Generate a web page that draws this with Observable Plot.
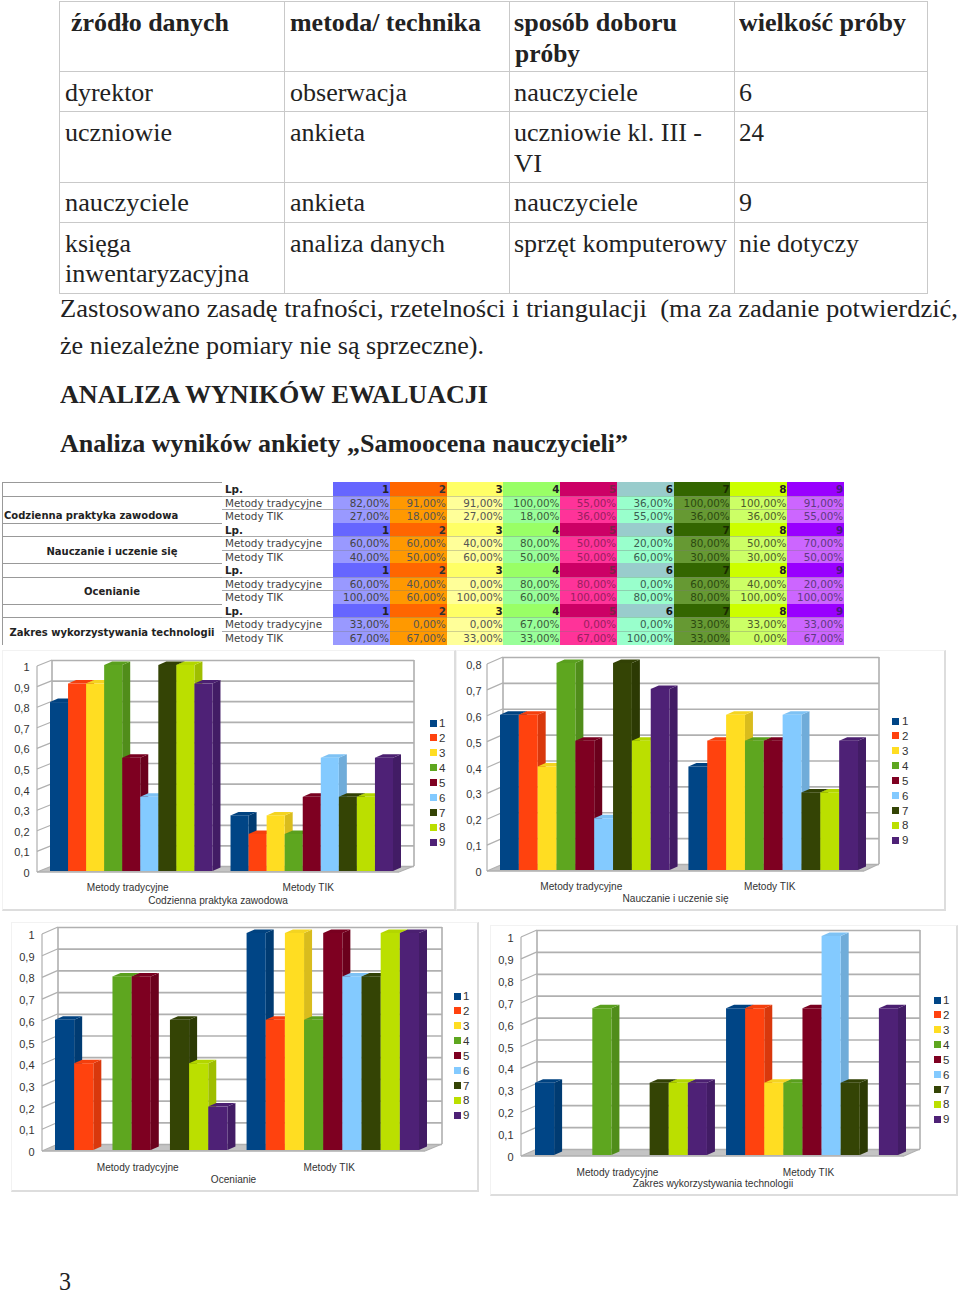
<!DOCTYPE html>
<html lang="pl"><head><meta charset="utf-8">
<script src="https://cdn.jsdelivr.net/npm/d3@7"></script>
<script src="https://cdn.jsdelivr.net/npm/@observablehq/plot@0.6"></script>
<style>
html,body{margin:0;padding:0;background:#fff;}
#page{position:relative;width:960px;height:1297px;overflow:hidden;}
#page div{position:absolute;box-sizing:border-box;}
.ln{white-space:pre;font-family:"Liberation Serif",serif;color:#222;transform-origin:0 50%;}
.c{font-family:"DejaVu Sans",sans-serif;font-size:10.4px;line-height:15px;text-align:right;padding-right:1px;white-space:pre;}
.leg{font:11.5px "Liberation Sans",sans-serif;color:#333;white-space:pre;}
svg{overflow:visible;}
</style></head><body><div id="page"></div>
<script>
// ---- data ----
const seriesNames = ["1","2","3","4","5","6","7","8","9"];
const rowNames = ["Metody tradycyjne","Metody TIK"];
const colors = ["#004586","#ff420e","#ffdd22","#5ea61f","#7e0021","#83caff","#344405","#bbdf00","#4e2176"];
const headFill = ["#6666ff","#ff6600","#ffff66","#99ff66","#cc0066","#99cccc","#336600","#ccff00","#9900ff"];
const dataFill = ["#9999ff","#ff9900","#ffff99","#99ff99","#ff3399","#99ffcc","#669933","#ccff66","#cc66ff"];
const headInk = ["#222","#333","#222","#222","#80204a","#111","#1a2a00","#222","#4a1a80"];
const dataInk = ["#444","#555","#555","#3c5c3c","#992060","#3c5c50","#2c4a10","#4c5c2c","#603a80"];

const praktykaTrad = [82,91,91,100,55,36,100,100,91];
const praktykaTik  = [27,18,27,18,36,55,36,36,55];
const nauczanieTrad = [60,60,40,80,50,20,80,50,70];
const nauczanieTik  = [40,50,60,50,50,60,30,30,50];
const ocenianieTrad = [60,40,0,80,80,0,60,40,20];
const ocenianieTik  = [100,60,100,60,100,80,80,100,100];
const zakresTrad = [33,0,0,67,0,0,33,33,33];
const zakresTik  = [67,67,33,33,67,100,33,0,67];
const ticks10 = [0,.1,.2,.3,.4,.5,.6,.7,.8,.9,1];
const ticks8  = [0,.1,.2,.3,.4,.5,.6,.7,.8];

const topTableX = [59,284,509,734,927];
const topTableY = [1,71,111,182,222,293];
const textLines = [
 [71,31,"źródło danych",158,1],[290,31,"metoda/ technika",191,1],[514,31,"sposób doboru",163,1],[739,31,"wielkość próby",167,1],
 [515,62,"próby",65,1],
 [65,101,"dyrektor",88,0],[290,101,"obserwacja",117,0],[514,101,"nauczyciele",124,0],[739,101,"6",13,0],
 [65,141,"uczniowie",107,0],[290,141,"ankieta",75,0],[514,141,"uczniowie kl. III -",188,0],[739,141,"24",25,0],
 [514,172,"VI",28,0],
 [65,211.5,"nauczyciele",124,0],[290,211.5,"ankieta",75,0],[514,211.5,"nauczyciele",124,0],[739,211.5,"9",13,0],
 [65,252,"księga",66,0],[290,252,"analiza danych",155,0],[514,252,"sprzęt komputerowy",213,0],[739,252,"nie dotyczy",120,0],
 [65,282,"inwentaryzacyjna",184,0],
 [60,317,"Zastosowano zasadę trafności, rzetelności i triangulacji  (ma za zadanie potwierdzić,",898,0],
 [60,354,"że niezależne pomiary nie są sprzeczne).",424,0],
 [60,403,"ANALIZA WYNIKÓW EWALUACJI",428,1],
 [60,452,"Analiza wyników ankiety „Samoocena nauczycieli”",568,1],
 [59,1290,"3",12,0,18]
];

const charts = [
 {title:"Codzienna praktyka zawodowa", trad:praktykaTrad, tik:praktykaTik, ticks:ticks10,
  box:[2,650,456,911], bars:[50,393], y:[871,665], front:[37,399], wall:[52,414], labelRight:29, back:[15,6], leg:[430,723], legText:439, labelY:[16,29]},
 {title:"Nauczanie i uczenie się", trad:nauczanieTrad, tik:nauczanieTik, ticks:ticks8,
  box:[456,650,946,911], bars:[500,858], y:[870,663], front:[487,864], wall:[503,879], labelRight:481, back:[16,7], leg:[892,721], legText:902, labelY:[16,28]},
 {title:"Ocenianie", trad:ocenianieTrad, tik:ocenianieTik, ticks:ticks10,
  box:[11,922,479,1192], bars:[55,419], y:[1150,933], front:[42,425], wall:[58,442], labelRight:34, back:[16,7], leg:[454,996], legText:463, labelY:[17,29]},
 {title:"Zakres wykorzystywania technologii", trad:zakresTrad, tik:zakresTik, ticks:ticks10,
  box:[490,925,958,1196], bars:[535,898], y:[1155,936], front:[521,904], wall:[537,920], labelRight:513, back:[16,7], leg:[934,1000], legText:943, labelY:[17,28]}
];
const tableLabels = [
 ["Codzienna praktyka zawodowa",4,"left",5],["Nauczanie i uczenie się",113,"center",1],
 ["Ocenianie",113,"center",0],["Zakres wykorzystywania technologii",113,"center",1]];

// ---- helpers ----
const page = document.getElementById("page");
function div(cls, css, text){
  const d=document.createElement("div"); if(cls) d.className=cls;
  d.style.cssText=css; if(text!=null) d.textContent=text; page.appendChild(d); return d;
}
// top table grid
for(let i=0;i<topTableX.length-1;i++) for(let j=0;j<topTableY.length-1;j++)
  div("",`left:${topTableX[i]}px;top:${topTableY[j]}px;width:${topTableX[i+1]-topTableX[i]+1}px;height:${topTableY[j+1]-topTableY[j]+1}px;border:1px solid #c9c9c9;`);
// text lines
for(const [x,b,t,w,bold,lhOpt] of textLines){
  const fs=25, lh=lhOpt||30, top=b-((lh-1.107*fs)/2+.891*fs);
  const d=div("ln",`left:${x}px;top:${top}px;font-size:${fs}px;line-height:${lh}px;font-weight:${bold?700:400};`,t);
  const m=d.getBoundingClientRect().width;
  d.style.transform=`scaleX(${w/m})`;
}
// colour table
const rowH=13.54, T0=482, colX0=333, colW=56.75;
const fmtPct=v=>v+",00%";
charts.forEach((c,k)=>{
  const t=T0+k*3*rowH;
  div("",`left:2px;top:${t}px;width:220px;height:${rowH+1}px;border-top:1px solid #999;`);
  const lab=tableLabels[k];
  div("c",`left:2px;top:${t+rowH}px;width:220px;height:${2*rowH}px;border-top:1px solid #999;line-height:${2*rowH+2*lab[3]}px;text-align:${lab[2]};padding-left:2px;padding-right:2px;font-weight:700;color:#222;font-size:10px;`,lab[0]);
  div("c",`left:225px;top:${t}px;width:105px;text-align:left;font-weight:700;color:#222;`,"Lp.");
  rowNames.forEach((r,ri)=>{
    div("c",`left:225px;top:${t+rowH*(ri+1)}px;width:108px;text-align:left;color:#444;`,r);
    if(ri==0) div("",`left:222px;top:${t+rowH}px;width:111px;height:${2*rowH}px;border-top:1px solid #aaa;border-bottom:0;`);
    if(ri==1) div("",`left:222px;top:${t+2*rowH}px;width:111px;height:1px;background:#aaa;`);
  });
  seriesNames.forEach((s,i)=>{
    const x=colX0+i*colW;
    div("c",`left:${x}px;top:${t}px;width:${colW+.5}px;height:${rowH+.5}px;background:${headFill[i]};color:${headInk[i]};font-weight:700;`,s);
    [c.trad,c.tik].forEach((a,ri)=>div("c",`left:${x}px;top:${t+rowH*(ri+1)}px;width:${colW+.5}px;height:${rowH+.5}px;background:${dataFill[i]};color:${dataInk[i]};box-shadow:inset 0 1px 0 rgba(120,120,120,.35);`,fmtPct(a[i])));
  });
});
div("",`left:2px;top:482px;height:163px;width:1px;background:#999;`);

// ---- charts ----
const slots=[...seriesNames.map(s=>"T"+s),"gap",...seriesNames.map(s=>"I"+s)];
const fmtTick=d=>String(d).replace(".",",");
const depth=[8,3.5];
for(const c of charts){
  const [L,Tp,R,B]=c.box, w=R-L, h=B-Tp;
  const rows=[
    ...c.trad.map((v,i)=>({slot:"T"+seriesNames[i],series:seriesNames[i],v:v/100})),
    ...c.tik.map((v,i)=>({slot:"I"+seriesNames[i],series:seriesNames[i],v:v/100}))
  ].filter(d=>d.v>0);
  const [bx,by]=c.back, grid="#b0b0b0", maxT=c.ticks[c.ticks.length-1];
  const labelDx=-4;
  const poly=(pts,fill,stroke)=>{
    const p=document.createElementNS("http://www.w3.org/2000/svg","polygon");
    p.setAttribute("points",pts.map(q=>q.join(",")).join(" "));
    p.setAttribute("fill",fill); if(stroke) p.setAttribute("stroke",stroke);
    return p;
  };
  const group=()=>document.createElementNS("http://www.w3.org/2000/svg","g");
  const lx=v=>v-L;
  const fr=[lx(c.front[0]),lx(c.front[1])], wl=[lx(c.wall[0]),lx(c.wall[1])];
  const floorMark=(index,{y})=>{
    const g=group(), y0=y(0)+1;
    g.appendChild(poly([[fr[0],y0],[fr[1],y0],[wl[1],y0-by],[wl[0],y0-by]],"#c4c4c4"));
    return g;
  };
  const wallMark=(index,{y})=>{
    const g=group();
    const line=(a,b,sw)=>{const p=poly([a,b],"none",grid);p.setAttribute("stroke-width",sw);g.appendChild(p);};
    line([wl[0],y(maxT)+1-by],[wl[0],y(0)+1-by],1.6);
    line([wl[1],y(maxT)+1-by],[wl[1],y(0)+1-by],1.6);
    line([fr[0],y(maxT)+1],[fr[0],y(0)+1],1.2);
    line([fr[0],y(0)+1],[fr[1],y(0)+1],1.4);
    line([fr[1],y(0)+1],[wl[1],y(0)+1-by],1.2);
    for(const t of c.ticks) line([fr[0],y(t)+1],[wl[0],y(t)+1-by],1.2);
    return g;
  };
  const depthMark=(index,{x,y})=>{
    const g=group(), bw=x("T2")-x("T1"), [d,e]=depth, y0=y(0);
    for(const r of rows){
      const col=colors[seriesNames.indexOf(r.series)], a=x(r.slot), b=a+bw, yv=y(r.v);
      g.appendChild(poly([[b,yv],[b+d,yv-e],[b+d,y0-e],[b,y0]],d3.color(col).darker(.45).formatHex()));
      g.appendChild(poly([[a,yv],[b,yv],[b+d,yv-e],[a+d,yv-e]],d3.color(col).darker(.12).formatHex()));
    }
    return g;
  };
  const labels=[
    {slot:"T5",text:rowNames[0],dy:c.labelY[0]},
    {slot:"I5",text:rowNames[1],dy:c.labelY[0]},
    {slot:"gap",text:c.title,dy:c.labelY[1]}
  ];
  const chart=Plot.plot({
    width:w,height:h,
    marginLeft:c.wall[0]-L, marginRight:R-c.wall[1], marginTop:0, marginBottom:0,
    style:{background:"transparent",fontFamily:"'Liberation Sans',sans-serif",fontSize:"11px",color:"#333"},
    x:{type:"band",domain:slots,range:[lx(c.bars[0]),lx(c.bars[1])],padding:0,round:false,axis:null},
    y:{domain:[0,maxT],range:[c.y[0]-Tp,c.y[1]-Tp],axis:null},
    color:{domain:seriesNames,range:colors},
    marks:[
      floorMark,
      Plot.ruleY(c.ticks,{stroke:grid,strokeWidth:1.7,strokeOpacity:1,dy:1-by}),
      wallMark,
      Plot.axisY({ticks:c.ticks,tickFormat:fmtTick,tickSize:0,tickPadding:c.wall[0]-c.labelRight,label:null,dy:2,fontSize:11}),
      depthMark,
      Plot.barY(rows,{x:"slot",y:"v",fill:"series",inset:0}),
      Plot.text(labels,{x:"slot",y:()=>0,text:"text",dx:labelDx,fontSize:10.1,fill:"#333",textAnchor:"middle"})
    ]
  });
  const bx0=div("",`left:${L}px;top:${Tp}px;width:${w}px;height:${h}px;`);
  chart.style.position="absolute"; chart.style.left="0"; chart.style.top="0";
  bx0.appendChild(chart);
  // vertical offsets of the group / title captions
  const texts=chart.querySelectorAll('g[aria-label="text"] text');
  texts.forEach((t,i)=>{t.setAttribute("dy",labels[i].dy);});
  div("",`left:${L}px;top:${Tp}px;width:${w}px;height:${h}px;border-right:2px solid #ddd;border-bottom:2px solid #ddd;border-left:1px solid #f2f2f2;border-top:1px solid #f2f2f2;`);
  seriesNames.forEach((s,i)=>{
    const yy=c.leg[1]+i*14.92;
    div("",`left:${c.leg[0]}px;top:${yy-3.5}px;width:7px;height:7px;background:${colors[i]};`);
    div("leg",`left:${c.legText}px;top:${yy-7}px;line-height:14px;`,s);
  });
}
</script></body></html>
